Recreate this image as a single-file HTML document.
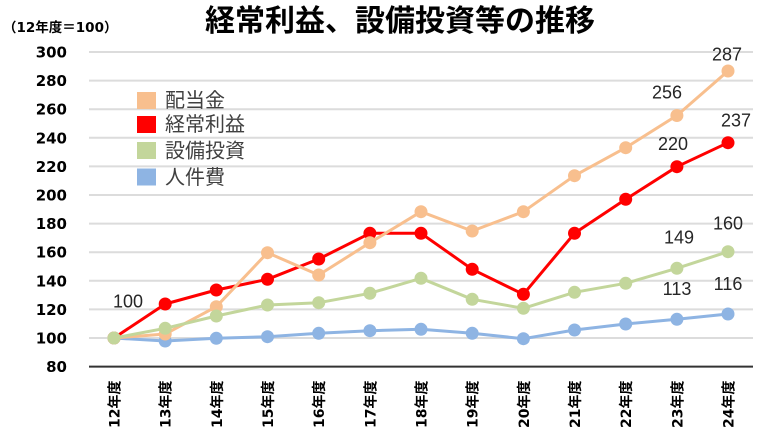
<!DOCTYPE html>
<html><head><meta charset="utf-8"><style>
html,body{margin:0;padding:0;background:#fff;}
svg{display:block;}
.b{font-family:"DejaVu Sans","Noto Sans CJK JP",sans-serif;font-weight:bold;fill:#000;}
.lg{font-family:"Liberation Sans","Noto Sans CJK JP",sans-serif;font-size:20px;fill:#404040;}
.dl{font-family:"Liberation Sans",sans-serif;font-size:18px;fill:#262626;text-anchor:middle;}
</style></head><body>
<svg width="757" height="439" viewBox="0 0 757 439" xmlns="http://www.w3.org/2000/svg">
<rect width="757" height="439" fill="#fff"/>
<text x="400" y="31" text-anchor="middle" style="font-family:'Noto Sans CJK JP',sans-serif;font-weight:bold;font-size:30px;fill:#000;">経常利益、設備投資等の推移</text>
<text class="b" x="3" y="32" style="font-size:13.5px;">（12年度＝100）</text>
<g stroke="#DCDCDC" stroke-width="2">
<line x1="89" x2="753" y1="52" y2="52"/>
<line x1="89" x2="753" y1="80.6" y2="80.6"/>
<line x1="89" x2="753" y1="109.2" y2="109.2"/>
<line x1="89" x2="753" y1="137.8" y2="137.8"/>
<line x1="89" x2="753" y1="166.4" y2="166.4"/>
<line x1="89" x2="753" y1="195" y2="195"/>
<line x1="89" x2="753" y1="223.6" y2="223.6"/>
<line x1="89" x2="753" y1="252.2" y2="252.2"/>
<line x1="89" x2="753" y1="280.8" y2="280.8"/>
<line x1="89" x2="753" y1="309.4" y2="309.4"/>
<line x1="89" x2="753" y1="338" y2="338"/>
</g>
<line x1="89" x2="753" y1="366.6" y2="366.6" stroke="#333" stroke-width="2"/>
<g class="b" style="font-size:15px;" text-anchor="end">
<text x="67" y="57.5">300</text>
<text x="67" y="86.1">280</text>
<text x="67" y="114.7">260</text>
<text x="67" y="143.3">240</text>
<text x="67" y="171.9">220</text>
<text x="67" y="200.5">200</text>
<text x="67" y="229.1">180</text>
<text x="67" y="257.7">160</text>
<text x="67" y="286.3">140</text>
<text x="67" y="314.9">120</text>
<text x="67" y="343.5">100</text>
<text x="67" y="372.1">80</text>
</g>
<g class="b" style="font-size:14px;">
<text transform="translate(119.5,428) rotate(-90)">12年度</text>
<text transform="translate(170.7,428) rotate(-90)">13年度</text>
<text transform="translate(221.8,428) rotate(-90)">14年度</text>
<text transform="translate(273,428) rotate(-90)">15年度</text>
<text transform="translate(324.2,428) rotate(-90)">16年度</text>
<text transform="translate(375.4,428) rotate(-90)">17年度</text>
<text transform="translate(426.5,428) rotate(-90)">18年度</text>
<text transform="translate(477.7,428) rotate(-90)">19年度</text>
<text transform="translate(528.9,428) rotate(-90)">20年度</text>
<text transform="translate(580,428) rotate(-90)">21年度</text>
<text transform="translate(631.2,428) rotate(-90)">22年度</text>
<text transform="translate(682.4,428) rotate(-90)">23年度</text>
<text transform="translate(733.5,428) rotate(-90)">24年度</text>
</g>
<g fill="#8EB4E3" stroke="#8EB4E3">
<polyline fill="none" stroke-width="3" stroke-linejoin="round" points="114,338 165.2,341 216.3,338.3 267.5,336.7 318.7,333.3 369.9,330.7 421,329.3 472.2,333.3 523.4,338.7 574.5,330 625.7,324 676.9,319.3 728,314"/>
<g stroke="none">
<circle cx="114" cy="338" r="6.5"/><circle cx="165.2" cy="341" r="6.5"/><circle cx="216.3" cy="338.3" r="6.5"/><circle cx="267.5" cy="336.7" r="6.5"/><circle cx="318.7" cy="333.3" r="6.5"/><circle cx="369.9" cy="330.7" r="6.5"/><circle cx="421" cy="329.3" r="6.5"/><circle cx="472.2" cy="333.3" r="6.5"/><circle cx="523.4" cy="338.7" r="6.5"/><circle cx="574.5" cy="330" r="6.5"/><circle cx="625.7" cy="324" r="6.5"/><circle cx="676.9" cy="319.3" r="6.5"/><circle cx="728" cy="314" r="6.5"/>
</g></g>
<g fill="#FF0000" stroke="#FF0000">
<polyline fill="none" stroke-width="3" stroke-linejoin="round" points="114,338 165.2,304 216.3,290 267.5,279.3 318.7,259 369.9,233.3 421,233.3 472.2,269.3 523.4,294.3 574.5,233.3 625.7,199.3 676.9,166.7 728,142.7"/>
<g stroke="none">
<circle cx="114" cy="338" r="6.5"/><circle cx="165.2" cy="304" r="6.5"/><circle cx="216.3" cy="290" r="6.5"/><circle cx="267.5" cy="279.3" r="6.5"/><circle cx="318.7" cy="259" r="6.5"/><circle cx="369.9" cy="233.3" r="6.5"/><circle cx="421" cy="233.3" r="6.5"/><circle cx="472.2" cy="269.3" r="6.5"/><circle cx="523.4" cy="294.3" r="6.5"/><circle cx="574.5" cy="233.3" r="6.5"/><circle cx="625.7" cy="199.3" r="6.5"/><circle cx="676.9" cy="166.7" r="6.5"/><circle cx="728" cy="142.7" r="6.5"/>
</g></g>
<g fill="#F8BF8E" stroke="#F8BF8E">
<polyline fill="none" stroke-width="3" stroke-linejoin="round" points="114,338 165.2,334 216.3,306.7 267.5,252.7 318.7,275 369.9,242.7 421,211.7 472.2,231 523.4,211.7 574.5,175.7 625.7,147.7 676.9,115.5 728,71"/>
<g stroke="none">
<circle cx="114" cy="338" r="6.5"/><circle cx="165.2" cy="334" r="6.5"/><circle cx="216.3" cy="306.7" r="6.5"/><circle cx="267.5" cy="252.7" r="6.5"/><circle cx="318.7" cy="275" r="6.5"/><circle cx="369.9" cy="242.7" r="6.5"/><circle cx="421" cy="211.7" r="6.5"/><circle cx="472.2" cy="231" r="6.5"/><circle cx="523.4" cy="211.7" r="6.5"/><circle cx="574.5" cy="175.7" r="6.5"/><circle cx="625.7" cy="147.7" r="6.5"/><circle cx="676.9" cy="115.5" r="6.5"/><circle cx="728" cy="71" r="6.5"/>
</g></g>
<g fill="#C3D69B" stroke="#C3D69B">
<polyline fill="none" stroke-width="3" stroke-linejoin="round" points="114,338 165.2,328.3 216.3,316 267.5,305 318.7,302.7 369.9,293.3 421,278.3 472.2,299.3 523.4,308.3 574.5,292.3 625.7,283.3 676.9,268.3 728,251.7"/>
<g stroke="none">
<circle cx="114" cy="338" r="6.5"/><circle cx="165.2" cy="328.3" r="6.5"/><circle cx="216.3" cy="316" r="6.5"/><circle cx="267.5" cy="305" r="6.5"/><circle cx="318.7" cy="302.7" r="6.5"/><circle cx="369.9" cy="293.3" r="6.5"/><circle cx="421" cy="278.3" r="6.5"/><circle cx="472.2" cy="299.3" r="6.5"/><circle cx="523.4" cy="308.3" r="6.5"/><circle cx="574.5" cy="292.3" r="6.5"/><circle cx="625.7" cy="283.3" r="6.5"/><circle cx="676.9" cy="268.3" r="6.5"/><circle cx="728" cy="251.7" r="6.5"/>
</g></g>
<text class="dl" x="128" y="307.5">100</text>
<text class="dl" x="727" y="60.7">287</text>
<text class="dl" x="667" y="98.3">256</text>
<text class="dl" x="736" y="126.7">237</text>
<text class="dl" x="673" y="150">220</text>
<text class="dl" x="728" y="229.3">160</text>
<text class="dl" x="679" y="243.5">149</text>
<text class="dl" x="677" y="295">113</text>
<text class="dl" x="728" y="290">116</text>
<rect x="137" y="92" width="19" height="17" fill="#F8BF8E"/>
<rect x="137" y="116" width="19" height="17" fill="#FF0000"/>
<rect x="137" y="142" width="19" height="17" fill="#C3D69B"/>
<rect x="137" y="168.5" width="19" height="17" fill="#8EB4E3"/>
<text class="lg" x="165" y="107">配当金</text>
<text class="lg" x="165" y="131">経常利益</text>
<text class="lg" x="165" y="157.5">設備投資</text>
<text class="lg" x="165" y="184">人件費</text>
</svg>
</body></html>
